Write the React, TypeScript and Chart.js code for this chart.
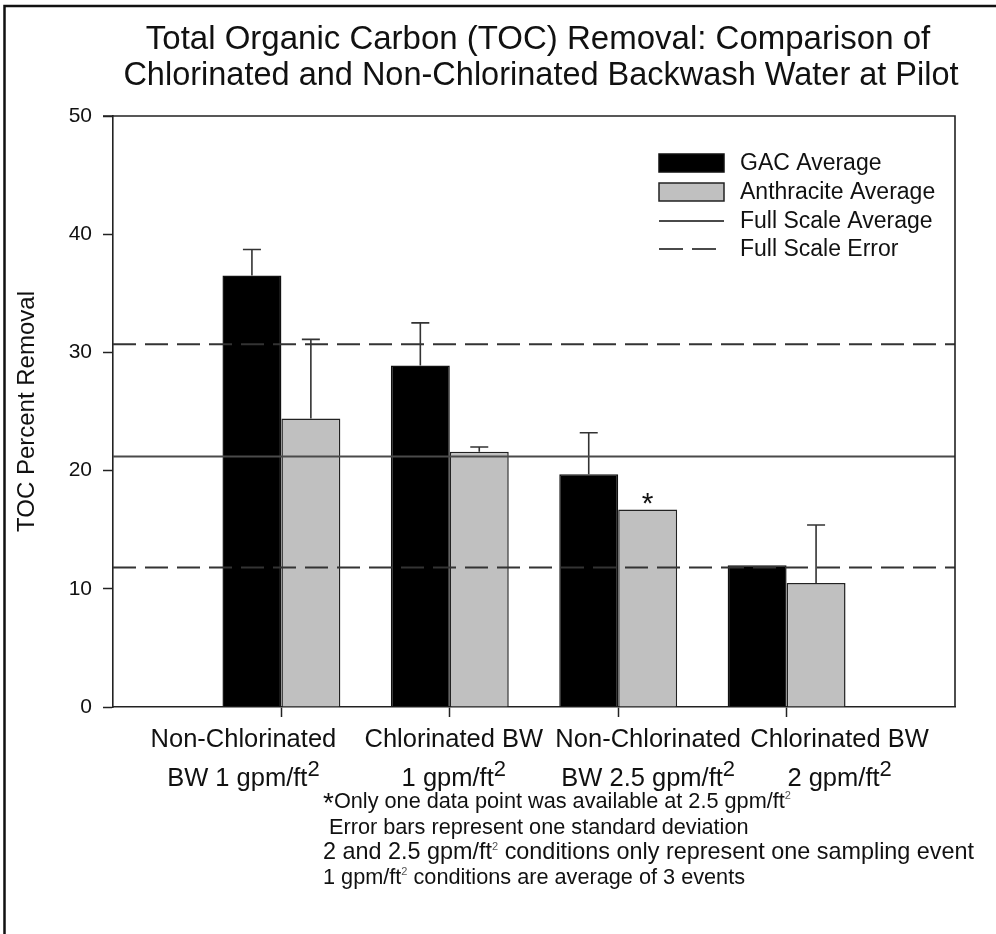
import React, { useEffect, useRef } from 'react';
import { Chart, registerables } from 'chart.js';

Chart.register(...registerables);

const FONT = '"Liberation Sans", Arial, Helvetica, sans-serif';

// ---- data ----
const titleLines = [
  'Total Organic Carbon (TOC) Removal: Comparison of',
  'Chlorinated and Non-Chlorinated Backwash Water at Pilot',
];
const categoryPositions = [1, 2, 3, 4];
const categoryLine1 = ['Non-Chlorinated', 'Chlorinated BW', 'Non-Chlorinated', 'Chlorinated BW'];
const categoryLine2 = ['BW 1 gpm/ft', '1 gpm/ft', 'BW 2.5 gpm/ft', '2 gpm/ft'];
const categorySup = ['2', '2', '2', '2'];
const gacAverage = [36.5, 28.9, 19.7, 12.0];
const gacError = [2.2, 3.6, 3.5, 0];
const anthraciteAverage = [24.4, 21.6, 16.7, 10.5];
const anthraciteError = [6.7, 0.4, 0, 4.9];
const anthraciteNote = ['', '', '*', ''];
const fullScaleAverage = 21.2;
const fullScaleError = [30.7, 11.8];
const yTickValues = [0, 10, 20, 30, 40, 50];
const legendLabels = ['GAC Average', 'Anthracite Average', 'Full Scale Average', 'Full Scale Error'];
const footnoteLines: { t: string; sup?: boolean; star?: boolean }[][] = [
  [{ t: '*', star: true }, { t: 'Only one data point was available at 2.5 gpm/ft' }, { t: '2', sup: true }],
  [{ t: ' Error bars represent one standard deviation' }],
  [{ t: '2 and 2.5 gpm/ft' }, { t: '2', sup: true }, { t: ' conditions only represent one sampling event' }],
  [{ t: '1 gpm/ft' }, { t: '2', sup: true }, { t: ' conditions are average of 3 events' }],
];

// label placement (pixel offsets from category tick, as in the original layout)
const labelOffsets = [-38, 4, 30, 53];
const footnoteSizes = [21.7, 21.7, 23.4, 21.7];

const GAC_COLOR = '#000000';
const ANTH_COLOR = '#c0c0c0';
const LINE_COLOR = '#4a4a4a';
const AXIS_COLOR = '#222222';
const TEXT_COLOR = '#111111';

const overlayPlugin = {
  id: 'overlay',
  afterDatasetsDraw(chart: any) {
    const ctx = chart.ctx;
    const yS = chart.scales.y;
    const area = chart.chartArea;
    ctx.save();
    // error bars (upper whisker only)
    const sets: [number, number[], number[]][] = [
      [0, gacAverage, gacError],
      [1, anthraciteAverage, anthraciteError],
    ];
    ctx.strokeStyle = '#333';
    ctx.lineWidth = 1.6;
    sets.forEach(([di, vals, errs]) => {
      const meta = chart.getDatasetMeta(di);
      meta.data.forEach((el: any, i: number) => {
        const e = errs[i];
        if (!e) return;
        const yTop = yS.getPixelForValue(vals[i] + e);
        ctx.beginPath();
        ctx.moveTo(el.x, el.y);
        ctx.lineTo(el.x, yTop);
        ctx.moveTo(el.x - 9, yTop);
        ctx.lineTo(el.x + 9, yTop);
        ctx.stroke();
      });
    });
    // note marks
    const metaA = chart.getDatasetMeta(1);
    ctx.fillStyle = TEXT_COLOR;
    ctx.font = `30px ${FONT}`;
    ctx.textAlign = 'center';
    ctx.textBaseline = 'alphabetic';
    metaA.data.forEach((el: any, i: number) => {
      if (anthraciteNote[i]) ctx.fillText(anthraciteNote[i], el.x, el.y + 3);
    });
    // full scale lines
    ctx.lineWidth = 2;
    ctx.strokeStyle = LINE_COLOR;
    const ya = yS.getPixelForValue(fullScaleAverage);
    ctx.beginPath();
    ctx.moveTo(area.left, ya);
    ctx.lineTo(area.right, ya);
    ctx.stroke();
    ctx.setLineDash([23, 9]);
    ctx.strokeStyle = '#333';
    fullScaleError.forEach((v) => {
      const y = yS.getPixelForValue(v);
      ctx.beginPath();
      ctx.moveTo(area.left, y);
      ctx.lineTo(area.right, y);
      ctx.stroke();
    });
    ctx.setLineDash([]);
    ctx.restore();
  },
  afterDraw(chart: any) {
    const ctx = chart.ctx;
    const area = chart.chartArea;
    const xS = chart.scales.x;
    ctx.save();
    // frame top / right
    ctx.strokeStyle = AXIS_COLOR;
    ctx.lineWidth = 1.6;
    ctx.beginPath();
    ctx.moveTo(area.left - 10, area.top);
    ctx.lineTo(area.right, area.top);
    ctx.lineTo(area.right, area.bottom);
    ctx.stroke();

    // outer image border (top and left)
    ctx.strokeStyle = '#111';
    ctx.lineWidth = 2.5;
    ctx.beginPath();
    ctx.moveTo(4.5, chart.height);
    ctx.lineTo(4.5, 6);
    ctx.lineTo(chart.width + 5, 6);
    ctx.stroke();

    // title
    ctx.fillStyle = TEXT_COLOR;
    ctx.textAlign = 'center';
    ctx.textBaseline = 'alphabetic';
    ctx.font = `33px ${FONT}`;
    ctx.fillText(titleLines[0], 538, 49);
    ctx.font = `32.5px ${FONT}`;
    ctx.fillText(titleLines[1], 541, 85);

    // legend
    const lx = 659;
    const lw = 65;
    const rows = [163, 192, 221, 249];
    ctx.lineWidth = 1.5;
    ctx.fillStyle = GAC_COLOR;
    ctx.fillRect(lx, rows[0] - 9, lw, 18);
    ctx.strokeStyle = '#111';
    ctx.strokeRect(lx, rows[0] - 9, lw, 18);
    ctx.fillStyle = ANTH_COLOR;
    ctx.fillRect(lx, rows[1] - 9, lw, 18);
    ctx.strokeStyle = '#222';
    ctx.strokeRect(lx, rows[1] - 9, lw, 18);
    ctx.strokeStyle = LINE_COLOR;
    ctx.lineWidth = 2;
    ctx.beginPath();
    ctx.moveTo(lx, rows[2]);
    ctx.lineTo(lx + lw, rows[2]);
    ctx.stroke();
    ctx.setLineDash([24, 9]);
    ctx.beginPath();
    ctx.moveTo(lx, rows[3]);
    ctx.lineTo(lx + 57, rows[3]);
    ctx.stroke();
    ctx.setLineDash([]);
    ctx.fillStyle = TEXT_COLOR;
    ctx.textAlign = 'left';
    ctx.textBaseline = 'middle';
    ctx.font = `23px ${FONT}`;
    legendLabels.forEach((t, i) => ctx.fillText(t, 740, rows[i] + 1));

    // category labels
    ctx.textBaseline = 'alphabetic';
    ctx.textAlign = 'left';
    categoryPositions.forEach((p, i) => {
      const cx = xS.getPixelForValue(p) + labelOffsets[i];
      ctx.font = `25.5px ${FONT}`;
      const w1 = ctx.measureText(categoryLine1[i]).width;
      ctx.fillText(categoryLine1[i], cx - w1 / 2, 747);
      const w2 = ctx.measureText(categoryLine2[i]).width;
      ctx.font = `22px ${FONT}`;
      const ws = ctx.measureText(categorySup[i]).width;
      const start = cx - (w2 + ws) / 2;
      ctx.font = `25.5px ${FONT}`;
      ctx.fillText(categoryLine2[i], start, 786);
      ctx.font = `22px ${FONT}`;
      ctx.fillText(categorySup[i], start + w2, 776);
    });

    // footnotes
    const fBase = [808, 834, 859, 884];
    footnoteLines.forEach((segs, li) => {
      let x = 323;
      segs.forEach((s) => {
        let size = footnoteSizes[li];
        let y = fBase[li];
        if (s.sup) {
          size = 11;
          y -= 9;
          ctx.fillStyle = '#555';
        } else if (s.star) {
          size = 28;
          y += 4;
          ctx.fillStyle = TEXT_COLOR;
        } else {
          ctx.fillStyle = TEXT_COLOR;
        }
        ctx.font = `${size}px ${FONT}`;
        ctx.fillText(s.t, x, y);
        x += ctx.measureText(s.t).width;
      });
    });
    ctx.restore();
  },
};

export default function App() {
  const ref = useRef<HTMLCanvasElement | null>(null);
  useEffect(() => {
    if (!ref.current) return;
    const chart = new Chart(ref.current, {
      type: 'bar',
      data: {
        datasets: [
          {
            label: legendLabels[0],
            data: categoryPositions.map((x, i) => ({ x, y: gacAverage[i] })),
            backgroundColor: GAC_COLOR,
            borderColor: '#111',
            borderWidth: 1.5,
            categoryPercentage: 0.7,
            barPercentage: 1.0,
          },
          {
            label: legendLabels[1],
            data: categoryPositions.map((x, i) => ({ x, y: anthraciteAverage[i] })),
            backgroundColor: ANTH_COLOR,
            borderColor: '#222',
            borderWidth: 1.5,
            categoryPercentage: 0.7,
            barPercentage: 1.0,
          },
        ],
      },
      options: {
        responsive: false,
        animation: false,
        layout: { padding: { left: 0, top: 116, right: 41, bottom: 0 } },
        plugins: {
          legend: { display: false },
          title: { display: false },
          tooltip: { enabled: false },
        },
        scales: {
          x: {
            type: 'linear',
            min: 0,
            max: 5,
            offset: false,
            ticks: { stepSize: 1, callback: () => '' },
            grid: {
              offset: false,
              drawOnChartArea: false,
              drawTicks: true,
              tickLength: 10,
              tickWidth: 1.5,
              tickColor: (c: any) =>
                c.tick && (c.tick.value === 0 || c.tick.value === 5) ? 'rgba(0,0,0,0)' : AXIS_COLOR,
            },
            border: { display: true, color: AXIS_COLOR, width: 1.6 },
            afterFit: (s: any) => {
              s.height = 934 - 707;
            },
          },
          y: {
            type: 'linear',
            min: 0,
            max: 50,
            afterBuildTicks: (s: any) => {
              s.ticks = yTickValues.map((v) => ({ value: v }));
            },
            ticks: {
              font: { family: FONT, size: 21 },
              color: TEXT_COLOR,
              padding: 11,
            },
            grid: {
              drawOnChartArea: false,
              drawTicks: true,
              tickLength: 10,
              tickWidth: 1.5,
              tickColor: AXIS_COLOR,
            },
            border: { display: true, color: AXIS_COLOR, width: 1.6 },
            title: {
              display: true,
              text: 'TOC Percent Removal',
              font: { family: FONT, size: 24 },
              color: TEXT_COLOR,
              padding: { top: 13, bottom: 0 },
            },
            afterFit: (s: any) => {
              s.width = 113;
            },
          },
        },
      } as any,
      plugins: [overlayPlugin],
    });
    return () => chart.destroy();
  }, []);
  return (
    <div style={{ position: 'absolute', left: 0, top: 0, width: 996, height: 934, background: '#fff' }}>
      <canvas ref={ref} width={996} height={934} style={{ display: 'block' }} />
    </div>
  );
}
